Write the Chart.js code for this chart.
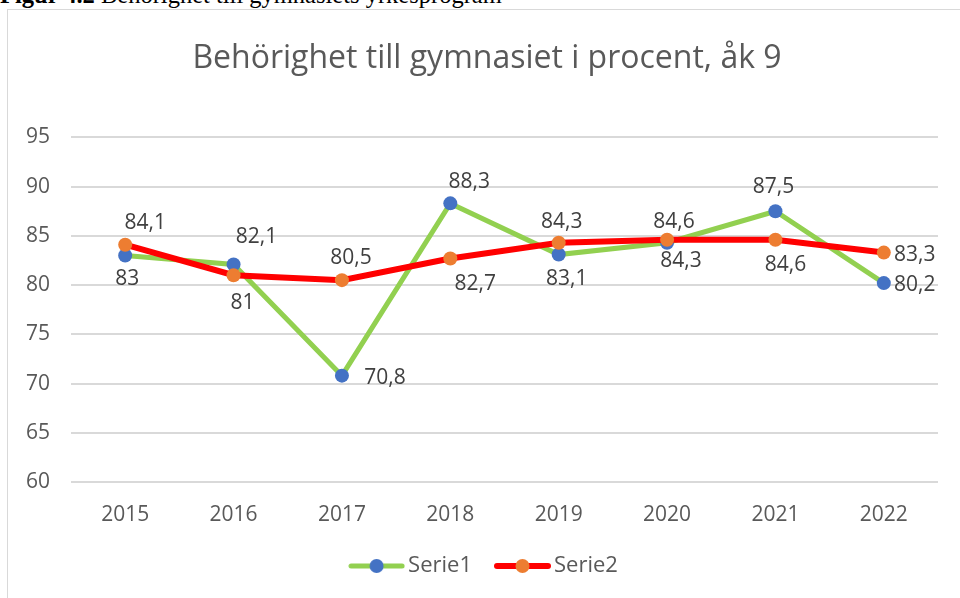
<!DOCTYPE html>
<html><head><meta charset="utf-8">
<script src="https://cdn.jsdelivr.net/npm/chart.js@4.4.1/dist/chart.umd.min.js"></script>
<style>
html,body{margin:0;padding:0;background:#fff;overflow:hidden;width:960px;height:598px;}
#cap{position:absolute;left:0;top:-17px;font-family:"Liberation Serif","Times New Roman",serif;font-size:24.5px;line-height:24.5px;white-space:nowrap;color:#000;}
#frame{position:absolute;left:7px;top:9px;width:1000px;height:700px;border-left:1px solid #d9d9d9;border-top:1px solid #d9d9d9;}
#wrap{position:absolute;left:8px;top:10px;width:958px;height:588px;}
</style></head>
<body>
<div id="cap"><b>Figur 4.2</b> Behörighet till gymnasiets yrkesprogram</div>
<div id="frame"></div>
<div id="wrap"><canvas id="c" width="958" height="588"></canvas></div>
<script>
const categories = ['2015', '2016', '2017', '2018', '2019', '2020', '2021', '2022'];
const serie1 = [83, 82.1, 70.8, 88.3, 83.1, 84.3, 87.5, 80.2];
const serie2 = [84.1, 81, 80.5, 82.7, 84.3, 84.6, 84.6, 83.3];
const seriesNames = ['Serie1', 'Serie2'];
const yMin = 60, yMax = 95, yStep = 5;
const chartTitle = 'Behörighet till gymnasiet i procent, åk 9';

// label placement (style only)
const labelOffsets = [
  [[2, 23], [23, -27], [43, 2], [19, -21], [8, 24], [14, 18], [-2, -24], [31, 2]],
  [[20, -22], [9, 28], [9, -22], [25, 26], [3, -21], [7, -18], [10, 25], [31, 2]]
];
const FONT = '"Open Sans", "DejaVu Sans", sans-serif';

function fmt(v) { return String(v).replace('.', ','); }

function legendIcon(lineColor, lineW, dotColor) {
  const c = document.createElement('canvas');
  c.width = 57; c.height = 16;
  const x = c.getContext('2d');
  x.strokeStyle = lineColor; x.lineWidth = lineW; x.lineCap = 'round';
  x.beginPath(); x.moveTo(3, 8); x.lineTo(54, 8); x.stroke();
  x.fillStyle = dotColor;
  x.beginPath(); x.arc(28.5, 8, 7, 0, Math.PI * 2); x.fill();
  return c;
}
const icons = [legendIcon('#92D050', 5, '#4472C4'), legendIcon('#FF0000', 6, '#ED7D31')];

const labelPlugin = {
  id: 'pointLabels',
  afterDatasetsDraw(chart) {
    const ctx = chart.ctx;
    ctx.save();
    ctx.font = '21px ' + FONT;
    ctx.fillStyle = '#404040';
    ctx.textAlign = 'center';
    ctx.textBaseline = 'middle';
    chart.data.datasets.forEach((ds, di) => {
      const meta = chart.getDatasetMeta(di);
      meta.data.forEach((pt, i) => {
        const o = labelOffsets[di][i];
        ctx.fillText(fmt(ds.data[i]), pt.x + o[0], pt.y + o[1]);
      });
    });
    ctx.restore();
  }
};

new Chart(document.getElementById('c'), {
  type: 'line',
  data: {
    labels: categories,
    datasets: [
      { label: seriesNames[0], data: serie1, borderColor: '#92D050', borderWidth: 5,
        pointBackgroundColor: '#4472C4', pointBorderColor: '#4472C4', pointBorderWidth: 0,
        pointRadius: 7, pointHoverRadius: 7, tension: 0, order: 1, fill: false },
      { label: seriesNames[1], data: serie2, borderColor: '#FF0000', borderWidth: 6,
        pointBackgroundColor: '#ED7D31', pointBorderColor: '#ED7D31', pointBorderWidth: 0,
        pointRadius: 7, pointHoverRadius: 7, tension: 0, order: 0, fill: false }
    ]
  },
  options: {
    responsive: false,
    devicePixelRatio: 1,
    animation: false,
    layout: { padding: { left: 0, right: 0, top: 0, bottom: 11 } },
    scales: {
      x: {
        offset: true,
        grid: { display: false, drawTicks: false },
        border: { display: false },
        ticks: { color: '#595959', font: { family: FONT, size: 21 }, padding: 20 },
        afterFit(scale) { scale.height = 43; }
      },
      y: {
        min: yMin, max: yMax,
        grid: { color: '#d9d9d9', lineWidth: 2, drawTicks: false },
        border: { display: false },
        ticks: { stepSize: yStep, color: '#595959', font: { family: FONT, size: 21 }, padding: 21 },
        afterFit(scale) { scale.width = 63; }
      },
      yRight: {
        type: 'linear', position: 'right', display: true, min: yMin, max: yMax,
        grid: { display: false, drawTicks: false },
        border: { display: false },
        ticks: { display: false },
        afterFit(scale) { scale.width = 28; }
      }
    },
    plugins: {
      title: {
        display: true, text: chartTitle, color: '#595959',
        font: { family: FONT, size: 32, weight: 'normal' },
        padding: { top: 30, bottom: 59 }
      },
      legend: {
        position: 'bottom',
        labels: {
          usePointStyle: true, pointStyleWidth: 41, padding: 30,
          color: '#595959', font: { family: FONT, size: 22 },
          generateLabels(chart) {
            return chart.data.datasets.map((ds, i) => ({
              text: ds.label, pointStyle: icons[i], fillStyle: 'rgba(0,0,0,0)',
              strokeStyle: 'rgba(0,0,0,0)', lineWidth: 0, hidden: false,
              datasetIndex: i, fontColor: '#595959'
            }));
          }
        }
      },
      tooltip: { enabled: false }
    }
  },
  plugins: [labelPlugin]
});
</script>
</body></html>
